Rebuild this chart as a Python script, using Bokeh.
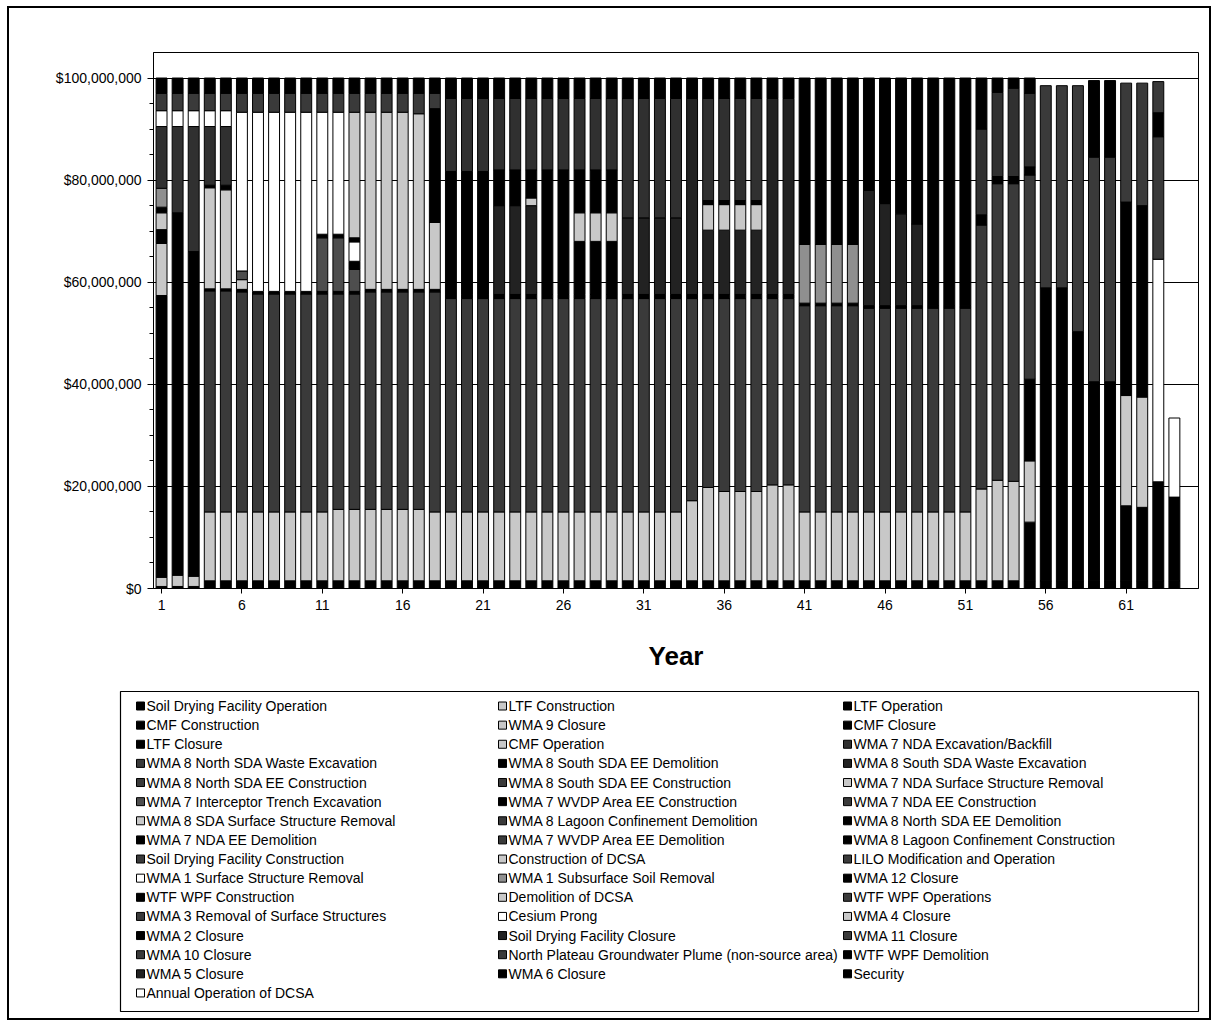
import numpy as np
from bokeh.plotting import figure
from bokeh.models import Range1d, FixedTicker, NumeralTickFormatter
from bokeh.layouts import column
from bokeh.embed import file_html
from bokeh.resources import INLINE
from bokeh.core.properties import value

FONT = "Liberation Sans"

years = list(range(1, 65))
x_ticks = [1, 6, 11, 16, 21, 26, 31, 36, 41, 46, 51, 56, 61]
y_ticks = [0, 20e6, 40e6, 60e6, 80e6, 100e6]

# ---- stacked values, $ millions per year (years 1..64), bottom to top ----
security = [0.4, 0.4, 0.4, 1.5, 1.5, 1.5, 1.5, 1.5,
            1.5, 1.5, 1.5, 1.5, 1.5, 1.5, 1.5, 1.5,
            1.5, 1.5, 1.5, 1.5, 1.5, 1.5, 1.5, 1.5,
            1.5, 1.5, 1.5, 1.5, 1.5, 1.5, 1.5, 1.5,
            1.5, 1.5, 1.5, 1.5, 1.5, 1.5, 1.5, 1.5,
            1.5, 1.5, 1.5, 1.5, 1.5, 1.5, 1.5, 1.5,
            1.5, 1.5, 1.5, 1.5, 1.5, 1.5, 1.5, 1.5,
            1.5, 1.5, 1.5, 1.5, 1.5, 1.5, 1.5, 1.5]
wma12_closure = [0, 0, 0, 0, 0, 0, 0, 0,
                 0, 0, 0, 0, 0, 0, 0, 0,
                 0, 0, 0, 0, 0, 0, 0, 0,
                 0, 0, 0, 0, 0, 0, 0, 0,
                 0, 0, 0, 0, 0, 0, 0, 0,
                 0, 0, 0, 0, 0, 0, 0, 0,
                 0, 0, 0, 0, 0, 0, 11.5, 57.4,
                 57.4, 48.8, 39.0, 39.0, 14.7, 14.4, 19.4, 16.4]
cmf_operation = [1.8, 2.2, 2.0, 13.5, 13.5, 13.5, 13.5, 13.5,
                 13.5, 13.5, 13.5, 14.0, 14.0, 14.0, 14.0, 14.0,
                 14.0, 13.5, 13.5, 13.5, 13.5, 13.5, 13.5, 13.5,
                 13.5, 13.5, 13.5, 13.5, 13.5, 13.5, 13.5, 13.5,
                 13.5, 15.7, 18.3, 17.5, 17.5, 17.5, 18.8, 18.8,
                 13.5, 13.5, 13.5, 13.5, 13.5, 13.5, 13.5, 13.5,
                 13.5, 13.5, 13.5, 18.0, 19.7, 19.5, 12.0, 0,
                 0, 0, 0, 0, 21.6, 21.6, 0, 0]
sdf_operation = [55.2, 71.0, 63.6, 0, 0, 0, 0, 0,
                 0, 0, 0, 0, 0, 0, 0, 0,
                 0, 0, 0, 0, 0, 0, 0, 0,
                 0, 0, 0, 0, 0, 0, 0, 0,
                 0, 0, 0, 0, 0, 0, 0, 0,
                 0, 0, 0, 0, 0, 0, 0, 0,
                 0, 0, 0, 0, 0, 0, 16.0, 0,
                 0, 0, 0, 0, 37.9, 37.5, 0, 0]
wma8n_waste_exc = [0, 0, 0, 43.3, 43.3, 43.1, 42.7, 42.7,
                   42.7, 42.7, 42.7, 42.2, 42.2, 42.6, 42.6, 42.6,
                   42.6, 43.1, 41.8, 41.8, 41.8, 41.8, 41.8, 41.8,
                   41.8, 41.8, 41.8, 41.8, 41.8, 41.8, 41.8, 41.8,
                   41.8, 39.6, 37.0, 37.8, 37.8, 37.8, 36.5, 36.5,
                   40.4, 40.4, 40.4, 40.4, 39.9, 39.9, 39.9, 39.9,
                   39.9, 39.9, 39.9, 51.7, 58.1, 58.3, 40.0, 39.6,
                   39.6, 48.2, 44.0, 44.0, 23.3, 24.0, 0, 0]
wma7_nda_ee_demo = [0, 0, 0, 0.4, 0.4, 0.5, 0.5, 0.5,
                    0.5, 0.5, 0.5, 0.5, 0.5, 0.5, 0.5, 0.5,
                    0.5, 0.5, 0.8, 0.8, 0.8, 0.8, 0.8, 0.8,
                    0.8, 0.8, 0.8, 0.8, 0.8, 0.8, 0.8, 0.8,
                    0.8, 0.8, 0.8, 0.8, 0.8, 0.8, 0.8, 0.8,
                    0.5, 0.5, 0.5, 0.5, 0.5, 0.5, 0.5, 0.5,
                    0.5, 0.5, 0.5, 2.0, 1.4, 1.4, 1.6, 0,
                    0, 0, 0, 0, 0, 0, 0, 0]
ltf_construction = [10.2, 0, 0, 0, 0, 1.9, 0, 0,
                    0, 0, 0, 0, 0, 0, 0, 0,
                    0, 0, 0, 0, 0, 0, 0, 0,
                    0, 0, 0, 0, 0, 0, 0, 0,
                    0, 0, 0, 0, 0, 0, 0, 0,
                    0, 0, 0, 0, 0, 0, 0, 0,
                    0, 0, 0, 0, 0, 0, 0, 0,
                    0, 0, 0, 0, 0, 0, 0, 0]
wma7_trench = [0, 0, 0, 0, 0, 1.7, 0, 0,
               0, 0, 10.5, 10.5, 4.3, 0, 0, 0,
               0, 0, 0, 0, 0, 0, 0, 0,
               0, 0, 0, 0, 0, 0, 0, 0,
               0, 0, 0, 0, 0, 0, 0, 0,
               0, 0, 0, 0, 0, 0, 0, 0,
               0, 0, 0, 0, 0, 0, 0, 0,
               0, 0, 0, 0, 0, 0, 0, 0]
cmf_construction = [2.7, 0, 0, 0, 0, 0, 0, 0,
                    0, 0, 0.7, 0.7, 1.6, 0, 0, 0,
                    0, 0, 0, 0, 0, 0, 0, 0,
                    0, 0, 0, 0, 0, 0, 0, 0,
                    0, 0, 0, 0, 0, 0, 0, 0,
                    0, 0, 0, 0, 0, 0, 0, 0,
                    0, 0, 0, 0, 0, 0, 0, 0,
                    0, 0, 0, 0, 0, 0, 0, 0]
wma1_surface = [0, 0, 0, 0, 0, 31.1, 35.1, 35.1,
                35.1, 35.1, 23.9, 23.9, 3.8, 0, 0, 0,
                0, 0, 0, 0, 0, 0, 0, 0,
                0, 0, 0, 0, 0, 0, 0, 0,
                0, 0, 0, 0, 0, 0, 0, 0,
                0, 0, 0, 0, 0, 0, 0, 0,
                0, 0, 0, 0, 0, 0, 0, 0,
                0, 0, 0, 0, 0, 0, 0, 0]
wma8s_waste_exc = [0, 0, 0, 0, 0, 0, 0, 0,
                   0, 0, 0, 0, 0, 0, 0, 0,
                   0, 0, 0, 0, 0, 17.4, 17.4, 17.4,
                   0, 0, 0, 0, 0, 15.0, 15.0, 15.0,
                   15.0, 38.4, 12.6, 12.6, 12.6, 12.6, 38.4, 38.4,
                   0, 0, 0, 0, 22.6, 20.0, 18.0, 16.0,
                   0, 0, 0, 0, 0, 0, 0, 0,
                   0, 0, 0, 0, 0, 0, 0, 0]
wma7_wvdp_ee_con = [0, 0, 0, 0, 0, 0, 0, 0,
                    0, 0, 0, 0, 0.8, 0, 0, 0,
                    0, 0, 24.1, 24.1, 24.1, 7.0, 7.0, 0,
                    24.4, 24.4, 10.4, 10.4, 10.4, 0, 0, 0,
                    0, 0, 0, 0, 0, 0, 0, 0,
                    0, 0, 0, 0, 0, 0, 0, 0,
                    0, 0, 0, 0, 0, 0, 0, 0,
                    0, 0, 0, 0, 0, 0, 0, 0]
wma8_sda_surface = [3.3, 0, 0, 19.8, 19.4, 0, 0, 0,
                    0, 0, 0, 0, 24.6, 34.7, 34.7, 34.7,
                    34.4, 13.1, 0, 0, 0, 0, 0, 1.5,
                    0, 0, 5.6, 5.6, 5.6, 0, 0, 0,
                    0, 0, 5.0, 5.0, 5.0, 5.0, 0, 0,
                    0, 0, 0, 0, 0, 0, 0, 0,
                    0, 0, 0, 0, 0, 0, 0, 0,
                    0, 0, 0, 0, 0, 0, 0, 0]
ltf_operation = [1.1, 0, 0, 0.5, 0.9, 0, 0, 0,
                 0, 0, 0, 0, 0, 0, 0, 0,
                 0, 22.3, 0, 0, 0, 0, 0, 5.5,
                 0, 0, 8.4, 8.4, 8.4, 0, 0, 0,
                 0, 0, 0.8, 0.8, 0.8, 0.8, 0, 0,
                 0, 0, 0, 0, 0, 0, 0, 0,
                 0, 0, 0, 0, 0, 0, 0, 0,
                 0, 0, 0, 0, 0, 0, 0, 0]
wma1_subsurface = [3.7, 0, 0, 0, 0, 0, 0, 0,
                   0, 0, 0, 0, 0, 0, 0, 0,
                   0, 0, 0, 0, 0, 0, 0, 0,
                   0, 0, 0, 0, 0, 0, 0, 0,
                   0, 0, 0, 0, 0, 0, 0, 0,
                   11.5, 11.5, 11.5, 11.5, 0, 0, 0, 0,
                   0, 0, 0, 0, 0, 0, 0, 0,
                   0, 0, 0, 0, 0, 0, 0, 0]
wma7_nda_exc = [12.1, 16.9, 24.5, 11.5, 11.5, 0, 0, 0,
                0, 0, 0, 0, 0, 0, 0, 0,
                0, 0, 14.3, 14.3, 14.3, 14.0, 14.0, 14.0,
                14.0, 14.0, 14.0, 14.0, 14.0, 23.4, 23.4, 23.4,
                23.4, 0, 20.0, 20.0, 20.0, 20.0, 0, 0,
                0, 0, 0, 0, 0, 0, 0, 0,
                0, 0, 0, 16.8, 16.5, 17.3, 14.4, 0,
                0, 0, 0, 0, 0, 0, 0, 0]
dcsa_operation = [3.1, 3.1, 3.1, 3.1, 3.1, 0, 0, 0,
                  0, 0, 0, 0, 0, 0, 0, 0,
                  0, 0, 0, 0, 0, 0, 0, 0,
                  0, 0, 0, 0, 0, 0, 0, 0,
                  0, 0, 0, 0, 0, 0, 0, 0,
                  0, 0, 0, 0, 0, 0, 0, 0,
                  0, 0, 0, 0, 0, 0, 0, 0,
                  0, 0, 0, 0, 0, 0, 43.6, 15.5]
wma8s_ee_con = [3.4, 3.4, 3.4, 3.4, 3.4, 3.7, 3.7, 3.7,
                3.7, 3.7, 3.7, 3.7, 3.7, 3.7, 3.7, 3.7,
                4.0, 3.0, 0, 0, 0, 0, 0, 0,
                0, 0, 0, 0, 0, 0, 0, 0,
                0, 0, 0, 0, 0, 0, 0, 0,
                0, 0, 0, 0, 0, 0, 0, 0,
                0, 0, 0, 0, 0, 0, 0, 0,
                0, 0, 0, 0, 0, 0, 24.0, 0]
wtf_wpf_demo = [3.0, 3.0, 3.0, 3.0, 3.0, 3.0, 3.0, 3.0,
                3.0, 3.0, 3.0, 3.0, 3.0, 3.0, 3.0, 3.0,
                3.0, 3.0, 4.0, 4.0, 4.0, 4.0, 4.0, 4.0,
                4.0, 4.0, 4.0, 4.0, 4.0, 4.0, 4.0, 4.0,
                4.0, 4.0, 4.0, 4.0, 4.0, 4.0, 4.0, 4.0,
                32.6, 32.6, 32.6, 32.6, 22.0, 24.6, 26.6, 28.6,
                44.6, 44.6, 44.6, 10.0, 2.8, 2.0, 3.0, 0,
                0, 0, 15.0, 15.0, 0, 0, 4.7, 0]
np_plume = [0, 0, 0, 0, 0, 0, 0, 0,
            0, 0, 0, 0, 0, 0, 0, 0,
            0, 0, 0, 0, 0, 0, 0, 0,
            0, 0, 0, 0, 0, 0, 0, 0,
            0, 0, 0, 0, 0, 0, 0, 0,
            0, 0, 0, 0, 0, 0, 0, 0,
            0, 0, 0, 0, 0, 0, 0, 0,
            0, 0, 0, 0, 0, 0, 6.1, 0]

BLACK, DARK, DARK2, DARK3 = "#000000", "#3a3a3a", "#222222", "#303030"
MDARK, MED, LIGHT, WHITE = "#4e4e4e", "#8f8f8f", "#c8c8c8", "#ffffff"

stack = [
    ("Security", security, BLACK),
    ("WMA 12 Closure", wma12_closure, BLACK),
    ("CMF Operation", cmf_operation, LIGHT),
    ("Soil Drying Facility Operation", sdf_operation, BLACK),
    ("WMA 8 North SDA Waste Excavation", wma8n_waste_exc, DARK),
    ("WMA 7 NDA EE Demolition", wma7_nda_ee_demo, BLACK),
    ("LTF Construction", ltf_construction, LIGHT),
    ("WMA 7 Interceptor  Trench Excavation", wma7_trench, MDARK),
    ("CMF Construction", cmf_construction, BLACK),
    ("WMA 1 Surface Structure Removal", wma1_surface, WHITE),
    ("WMA 8 South SDA Waste Excavation", wma8s_waste_exc, DARK2),
    ("WMA 7 WVDP Area EE Construction", wma7_wvdp_ee_con, BLACK),
    ("WMA 8 SDA Surface Structure Removal", wma8_sda_surface, LIGHT),
    ("LTF Operation", ltf_operation, BLACK),
    ("WMA 1 Subsurface Soil Removal", wma1_subsurface, MED),
    ("WMA 7 NDA Excavation/Backfill", wma7_nda_exc, DARK3),
    ("Annual Operation of DCSA", dcsa_operation, WHITE),
    ("WMA 8 South SDA EE Construction", wma8s_ee_con, DARK),
    ("WTF WPF Demolition", wtf_wpf_demo, BLACK),
    ("North Plateau Groundwater Plume (non-source area)", np_plume, DARK),
]

# legend (three columns as in the original)
legend_col1 = ["Soil Drying Facility Operation", "CMF Construction", "LTF Closure",
               "WMA 8 North SDA Waste Excavation", "WMA 8 North SDA EE Construction",
               "WMA 7 Interceptor  Trench Excavation", "WMA 8 SDA Surface Structure Removal",
               "WMA 7 NDA EE Demolition", "Soil Drying Facility Construction",
               "WMA 1 Surface Structure Removal", "WTF WPF Construction",
               "WMA 3 Removal of Surface Structures", "WMA 2 Closure", "WMA 10 Closure",
               "WMA 5 Closure", "Annual Operation of DCSA"]
legend_col2 = ["LTF Construction", "WMA 9 Closure", "CMF Operation",
               "WMA 8 South SDA EE Demolition", "WMA 8 South SDA EE Construction",
               "WMA 7 WVDP Area EE Construction", "WMA 8 Lagoon Confinement Demolition",
               "WMA 7 WVDP Area EE Demolition", "Construction of DCSA",
               "WMA 1 Subsurface Soil Removal", "Demolition of DCSA", "Cesium Prong",
               "Soil Drying Facility Closure",
               "North Plateau Groundwater Plume (non-source area)", "WMA 6 Closure"]
legend_col3 = ["LTF Operation", "CMF Closure", "WMA 7 NDA Excavation/Backfill",
               "WMA 8 South SDA Waste Excavation", "WMA 7 NDA Surface Structure Removal",
               "WMA 7 NDA EE Construction", "WMA 8 North SDA EE Demolition",
               "WMA 8 Lagoon Confinement Construction", "LILO Modification and Operation",
               "WMA 12 Closure", "WTF WPF Operations", "WMA 4 Closure", "WMA 11 Closure",
               "WTF WPF Demolition", "Security"]

swatch = {n: c for n, _, c in stack}
extra_swatch = {
    "LTF Closure": BLACK, "WMA 8 North SDA EE Construction": DARK,
    "Soil Drying Facility Construction": DARK, "WTF WPF Construction": BLACK,
    "WMA 3 Removal of Surface Structures": DARK, "WMA 2 Closure": BLACK,
    "WMA 10 Closure": DARK, "WMA 5 Closure": DARK2, "WMA 9 Closure": LIGHT,
    "WMA 8 South SDA EE Demolition": BLACK, "WMA 8 Lagoon Confinement Demolition": DARK,
    "WMA 7 WVDP Area EE Demolition": DARK, "Construction of DCSA": LIGHT,
    "Demolition of DCSA": LIGHT, "Cesium Prong": WHITE,
    "Soil Drying Facility Closure": DARK2, "WMA 6 Closure": BLACK,
    "CMF Closure": BLACK, "WMA 7 NDA Surface Structure Removal": LIGHT,
    "WMA 7 NDA EE Construction": DARK, "WMA 8 North SDA EE Demolition": BLACK,
    "WMA 8 Lagoon Confinement Construction": BLACK,
    "LILO Modification and Operation": DARK, "WTF WPF Operations": DARK,
    "WMA 4 Closure": LIGHT, "WMA 11 Closure": DARK,
}
swatch.update(extra_swatch)

# ---------------- main chart ----------------
p = figure(frame_width=1045, frame_height=536,
           min_border_left=144, min_border_right=11, min_border_top=44, min_border_bottom=100,
           x_range=Range1d(0.5, 65.5), y_range=Range1d(0, 105e6),
           output_backend="svg", toolbar_location=None, tools="",
           background_fill_color="white", border_fill_color="white")
p.outline_line_color = "black"
p.outline_line_width = 1

yrs = np.array(years, dtype=float)
bottom = np.zeros(len(years))
for name, vals, col in stack:
    v = np.array(vals, dtype=float) * 1e6
    m = v > 0
    top = bottom + v
    if m.any():
        p.vbar(x=yrs[m], bottom=bottom[m], top=top[m], width=0.68,
               fill_color=col, line_color="black", line_width=1)
    bottom = top

p.xgrid.visible = False
p.ygrid.ticker = FixedTicker(ticks=y_ticks)
p.ygrid.grid_line_color = "black"
p.ygrid.grid_line_width = 1
p.ygrid.grid_line_alpha = 1.0

p.yaxis.ticker = FixedTicker(ticks=y_ticks,
                             minor_ticks=[i * 5e6 for i in range(21)])
p.yaxis.formatter = NumeralTickFormatter(format="$0,0")
p.yaxis.major_tick_out = 6
p.yaxis.major_tick_in = 0
p.yaxis.minor_tick_out = 4
p.yaxis.minor_tick_in = 0
p.yaxis.major_label_standoff = 6

p.xaxis.ticker = FixedTicker(ticks=x_ticks)
p.xaxis.major_tick_out = 5
p.xaxis.major_tick_in = 0
p.xaxis.minor_tick_line_color = None
p.xaxis.major_label_standoff = 6
p.xaxis.axis_label = "Year"
p.xaxis.axis_label_text_font = FONT
p.xaxis.axis_label_text_font_size = "26px"
p.xaxis.axis_label_text_font_style = "bold"
p.xaxis.axis_label_text_color = "black"
p.xaxis.axis_label_standoff = 28

for ax in (p.xaxis, p.yaxis):
    ax.axis_line_color = "black"
    ax.major_tick_line_color = "black"
    ax.major_label_text_font = FONT
    ax.major_label_text_font_size = "14px"
    ax.major_label_text_color = "black"
p.yaxis.minor_tick_line_color = "black"

# ---------------- legend panel ----------------
LW, LH = 1200, 330
lg = figure(frame_width=LW, frame_height=LH, x_range=Range1d(0, LW), y_range=Range1d(LH, 0),
            min_border=0, output_backend="svg", toolbar_location=None, tools="",
            background_fill_color="white", border_fill_color="white")
lg.axis.visible = False
lg.grid.visible = False
lg.outline_line_color = None

for fig in (p, lg):
    try:
        fig.frame_align = False
    except Exception:
        pass

lg.quad(left=[111], right=[1189], top=[3], bottom=[323],
        fill_color=None, line_color="black", line_width=1.2)

col_sw_x = [131, 493, 838]
row_y0, row_dy = 17.5, 19.13
sx, sy, sc, tx, ty, tt = [], [], [], [], [], []
for ci, names in enumerate([legend_col1, legend_col2, legend_col3]):
    for ri, n in enumerate(names):
        y = row_y0 + ri * row_dy
        sx.append(col_sw_x[ci]); sy.append(y); sc.append(swatch[n])
        tx.append(col_sw_x[ci] + 6); ty.append(y); tt.append(n)

lg.rect(x=sx, y=sy, width=8, height=8, width_units="screen", height_units="screen",
        fill_color=sc, line_color="black", line_width=1)
lg.text(x=tx, y=ty, text=tt, text_font=value(FONT), text_font_size="14px",
        text_baseline="middle", text_align="left", text_color="black")

layout = column(p, lg, spacing=0,
                styles={"border": "2px solid black", "margin-left": "7px", "margin-top": "6px"})

open("out.html", "w").write(file_html(layout, INLINE))
